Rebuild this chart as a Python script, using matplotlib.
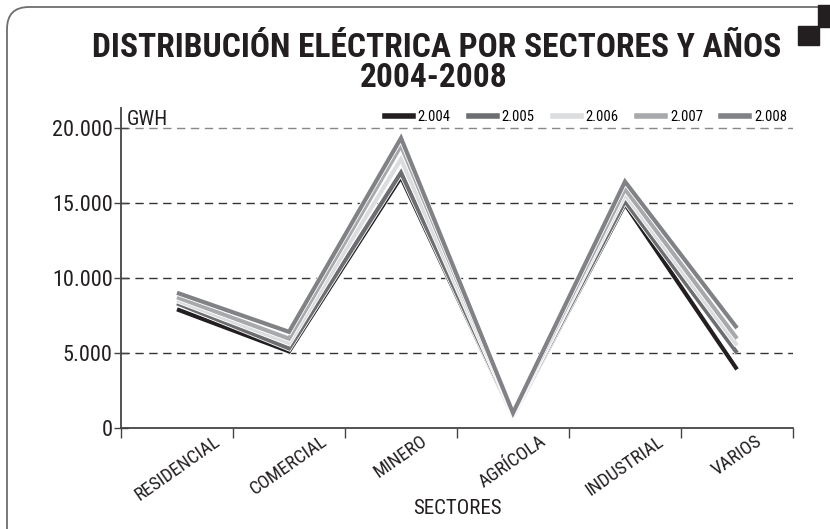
import matplotlib
matplotlib.use("Agg")
import matplotlib.pyplot as plt
import matplotlib.patheffects as pe
import matplotlib.transforms as mtransforms
from matplotlib import font_manager as fm
from matplotlib.patches import FancyBboxPatch, Rectangle
from matplotlib.lines import Line2D

categories = ["RESIDENCIAL", "COMERCIAL", "MINERO", "AGRÍCOLA", "INDUSTRIAL", "VARIOS"]
years = ["2.004", "2.005", "2.006", "2.007", "2.008"]
v2004 = [7900, 5100, 16700, 800, 14900, 3900]
v2005 = [8300, 5300, 17000, 850, 15100, 5000]
v2006 = [8500, 5650, 17900, 900, 15550, 5500]
v2007 = [8700, 5950, 18800, 950, 15900, 5950]
v2008 = [9000, 6400, 19300, 1000, 16400, 6650]
series = [v2004, v2005, v2006, v2007, v2008]
colors = ["#231f20", "#6d6e71", "#dcddde", "#a7a9ac", "#808285"]
yticks = [0, 5000, 10000, 15000, 20000]
ytick_labels = ["0", "5.000", "10.000", "15.000", "20.000"]


def _wt(f):
    w = f.weight
    if isinstance(w, str):
        w = fm.weight_dict.get(w, 400)
    return w


def find_condensed(bold):
    prefs = ["liberationsansnarrow", "robotocondensed", "dejavusanscondensed", "opensans", "noto"]
    cands = []
    for f in fm.fontManager.ttflist:
        fn = f.fname.lower().replace("-", "").replace("_", "")
        cond = ("condensed" in fn or "narrow" in fn or
                f.stretch in ("condensed", "semi-condensed", "extra-condensed"))
        if not cond or "italic" in fn or "oblique" in fn:
            continue
        w = _wt(f)
        if bold and w < 600:
            continue
        if not bold and (w >= 600 or w < 350):
            continue
        score = len(prefs)
        for i, p in enumerate(prefs):
            if p in fn:
                score = i
                break
        cands.append((score, f.fname))
    if cands:
        cands.sort()
        return fm.FontProperties(fname=cands[0][1])
    return fm.FontProperties(family="DejaVu Sans", weight="bold" if bold else "normal")


FP = find_condensed(False)
FPB = find_condensed(True)


def fp(size, bold=False):
    p = (FPB if bold else FP).copy()
    p.set_size(size)
    return p


fig = plt.figure(figsize=(8.30, 5.29), dpi=100)
ax = fig.add_axes([121/830, 101/529, 672/830, 320/529])

xs = [i + 0.5 for i in range(len(categories))]
for vals, col, lab in zip(series, colors, years):
    ax.plot(xs, vals, color=col, lw=3.0, label=lab, solid_joinstyle="miter",
            solid_capstyle="butt",
            path_effects=[pe.Stroke(linewidth=4.2, foreground="white"), pe.Normal()],
            zorder=3)

ax.set_xlim(0, 6)
ax.set_ylim(0, 21300)

for y in yticks[1:]:
    ax.axhline(y, color="#888888" if y == 20000 else "#333333", lw=1.0,
               ls=(0, (6, 4)), zorder=1)

ax.set_yticks(yticks)
ax.set_yticklabels(ytick_labels)
for t in ax.get_yticklabels():
    t.set_fontproperties(fp(16))
    t.set_color("#231f20")
ax.tick_params(axis="y", direction="inout", length=10, width=1, color="#444444", pad=1)

ax.set_xticks(range(7))
ax.set_xticklabels([])
ax.set_xticks(xs, minor=True)
ax.set_xticklabels(categories, minor=True, rotation=35, ha="center", va="top")
shift = mtransforms.ScaledTranslation(-13/100, 0, fig.dpi_scale_trans)
for t in ax.get_xticklabels(minor=True):
    t.set_fontproperties(fp(13.5))
    t.set_color("#231f20")
    t.set_transform(t.get_transform() + shift)
ax.tick_params(axis="x", which="major", direction="out", length=7, width=1, color="#444444")
ax.tick_params(axis="x", which="minor", length=0, pad=3)

for s in ["top", "right"]:
    ax.spines[s].set_visible(False)
for s in ["left", "bottom"]:
    ax.spines[s].set_color("#444444")
    ax.spines[s].set_linewidth(1.3)

ax.text(0.008, 0.995, "GWH", transform=ax.transAxes, fontproperties=fp(15),
        ha="left", va="top", color="#231f20")
fig.text(457/830, 1 - 509/529, "SECTORES", fontproperties=fp(15), ha="center",
         va="center", color="#231f20")

handles = [Line2D([0], [0], color=c, lw=4) for c in colors]
fig.legend(handles, years, loc="center right", bbox_to_anchor=(787/830, 1 - 117/529),
           ncol=5, frameon=False, prop=fp(10.5), handlelength=1.9, handletextpad=0.35,
           columnspacing=1.25, borderaxespad=0, borderpad=0)

t1 = fig.text(437/830, 1 - 48/529, "DISTRIBUCIÓN ELÉCTRICA POR SECTORES Y AÑOS",
              ha="center", va="center", fontproperties=fp(25, True), color="#231f20")
t2 = fig.text(434/830, 1 - 78/529, "2004-2008",
              ha="center", va="center", fontproperties=fp(25, True), color="#231f20")

r = fig.canvas.get_renderer()
w = t1.get_window_extent(renderer=r).width
if w > 690:
    s = 25 * 690 / w
    t1.set_fontsize(s)
    t2.set_fontsize(s)

frame = FancyBboxPatch((0.07, -0.3), 8.8, 5.52,
                       boxstyle="round,pad=0,rounding_size=0.22",
                       transform=fig.dpi_scale_trans, fill=False,
                       edgecolor="#6d6e71", lw=1.3, clip_on=False)
fig.patches.append(frame)
fig.patches.append(Rectangle((8.18, 5.02), 0.3, 0.22, transform=fig.dpi_scale_trans,
                             color="#231f20", clip_on=False))
fig.patches.append(Rectangle((7.98, 4.84), 0.21, 0.19, transform=fig.dpi_scale_trans,
                             color="#231f20", clip_on=False))

fig.savefig("out.png", dpi=100)
